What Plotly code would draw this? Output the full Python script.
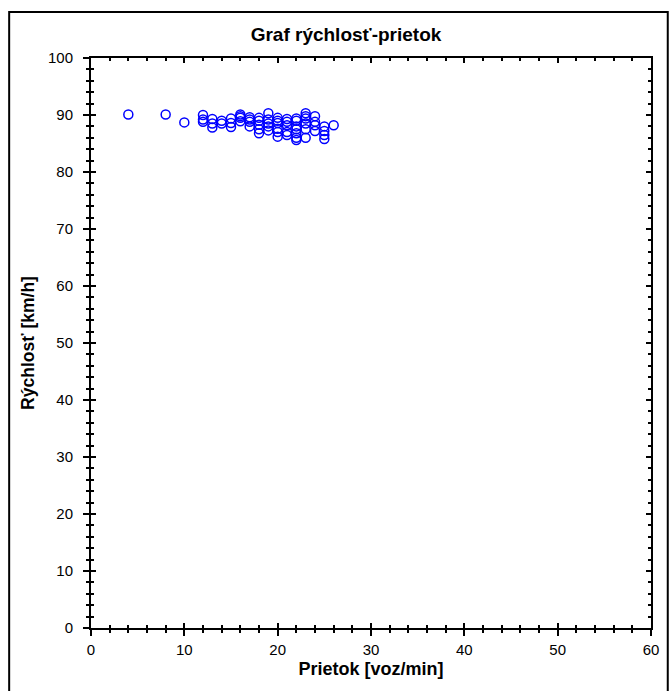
import plotly.graph_objects as go

prietok = [4, 8, 10,
           12, 12, 12,
           13, 13, 13,
           14, 14,
           15, 15, 15,
           16, 16, 16, 16,
           17, 17, 17, 17,
           18, 18, 18, 18, 18,
           19, 19, 19, 19, 19,
           20, 20, 20, 20, 20, 20,
           21, 21, 21, 21, 21,
           22, 22, 22, 22, 22, 22, 22,
           23, 23, 23, 23, 23, 23,
           24, 24, 24, 24,
           25, 25, 25, 25,
           26]
rychlost = [90.1, 90.1, 88.7,
            90.0, 89.2, 88.8,
            89.3, 87.8, 88.5,
            88.5, 89.0,
            89.4, 87.9, 88.6,
            90.1, 89.5, 88.9, 89.8,
            89.6, 88.8, 89.2, 88.0,
            89.5, 88.3, 86.8, 87.5, 89.0,
            90.3, 88.5, 87.3, 89.2, 88.0,
            89.5, 88.6, 87.6, 86.2, 89.0, 87.0,
            89.3, 88.2, 87.0, 86.5, 88.8,
            89.0, 88.0, 86.8, 85.6, 87.5, 89.4, 86.0,
            90.3, 89.4, 88.5, 87.5, 86.0, 89.8,
            89.8, 88.8, 87.2, 88.2,
            88.0, 87.2, 86.5, 85.8,
            88.2]

x_range = [0, 60]
y_range = [0, 100]
title_text = "Graf rýchlosť-prietok"
x_title = "Prietok [voz/min]"
y_title = "Rýchlosť [km/h]"

W, H = 671, 691
L, R, T, B = 91, 12, 58, 63
font = "Liberation Sans, Arial, sans-serif"

fig = go.Figure()
fig.add_trace(go.Scatter(
    x=prietok, y=rychlost, mode="markers",
    marker=dict(symbol="circle-open", size=9, color="#0000ff",
                line=dict(color="#0000ff", width=1.5)),
    showlegend=False, hoverinfo="skip"))
# invisible trace for the overlay axes
fig.add_trace(go.Scatter(x=[None], y=[None], xaxis="x2", yaxis="y2",
                         showlegend=False, hoverinfo="skip"))

axis_common = dict(showgrid=False, zeroline=False, showline=True,
                   linecolor="black", linewidth=2)

fig.update_layout(
    width=W, height=H,
    margin=dict(l=L, r=R, t=T, b=B),
    paper_bgcolor="white", plot_bgcolor="white",
    font=dict(family=font, size=15, color="black"),
    title=dict(text=title_text, x=346 / W, xanchor="center",
               y=1 - 34 / H, yanchor="middle",
               font=dict(family=font, size=19, color="black", weight="bold")),
    xaxis=dict(range=x_range, dtick=10, ticks="outside", ticklen=6, tickwidth=1.5,
               tickcolor="black", tickfont=dict(size=15),
               minor=dict(dtick=2, ticks="outside", ticklen=3, tickwidth=1.5,
                          tickcolor="black"),
               ticklabelstandoff=1,
               title=dict(text=x_title, standoff=5,
                          font=dict(family=font, size=18, weight="bold")),
               **axis_common),
    yaxis=dict(range=y_range, dtick=10, ticks="outside", ticklen=6, tickwidth=1.5,
               tickcolor="black", tickfont=dict(size=15),
               minor=dict(dtick=2, ticks="outside", ticklen=3, tickwidth=1.5,
                          tickcolor="black"),
               ticklabelstandoff=7,
               title=dict(text=y_title, standoff=9,
                          font=dict(family=font, size=17.5, weight="bold")),
               **axis_common),
    xaxis2=dict(range=x_range, dtick=10, overlaying="x", ticks="inside",
                ticklen=5, tickwidth=1.5, tickcolor="black", mirror="allticks",
                showticklabels=False,
                minor=dict(dtick=2, ticks="inside", ticklen=3, tickwidth=1.5,
                           tickcolor="black"),
                **axis_common),
    yaxis2=dict(range=y_range, dtick=10, overlaying="y", ticks="inside",
                ticklen=5, tickwidth=1.5, tickcolor="black", mirror="allticks",
                showticklabels=False,
                minor=dict(dtick=2, ticks="inside", ticklen=3, tickwidth=1.5,
                           tickcolor="black"),
                **axis_common),
)

pw = W - L - R
ph = H - T - B
fig.add_shape(type="rect", xref="paper", yref="paper",
              x0=(8 - L) / pw, x1=(W + 5 - L) / pw,
              y0=-(H + 5 - (H - B)) / ph, y1=((H - B) - 12) / ph,
              line=dict(color="black", width=2), fillcolor="rgba(0,0,0,0)",
              layer="above")

fig.write_html("out.html")
